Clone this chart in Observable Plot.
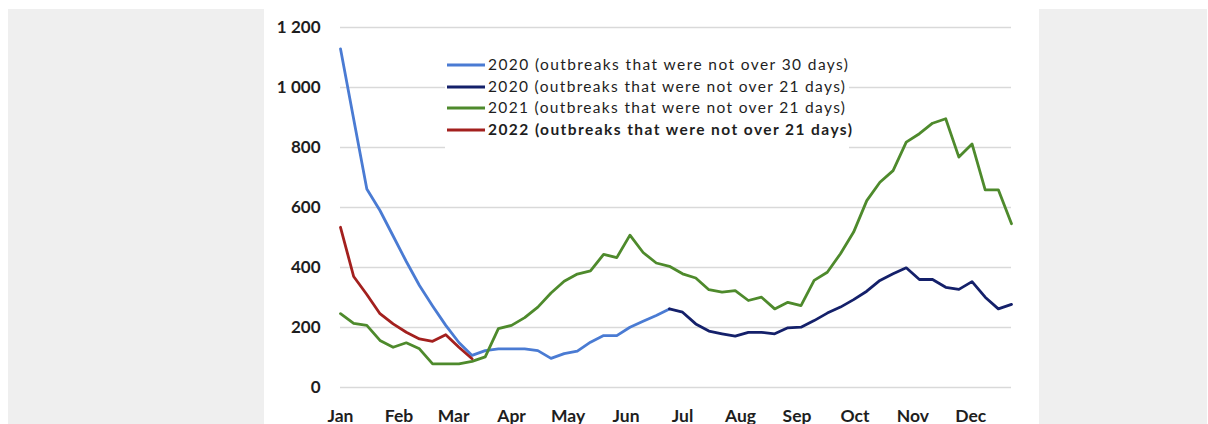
<!DOCTYPE html>
<html>
<head>
<meta charset="utf-8">
<script src="https://cdn.jsdelivr.net/npm/d3@7"></script>
<script src="https://cdn.jsdelivr.net/npm/@observablehq/plot@0.6"></script>
<style>
  html, body { margin: 0; padding: 0; background: #ffffff; }
  body { width: 1208px; height: 424px; position: relative; overflow: hidden; font-family: Lato, "Open Sans", sans-serif; }
  #gray { position: absolute; left: 8px; top: 9px; width: 1199px; height: 415px; background: #efefef; }
  #panel { position: absolute; left: 264px; top: 9px; width: 775px; height: 415px; background: #ffffff; }
  #panel > svg { position: absolute; left: 0; top: 0; }
  #legend { position: absolute; left: 0; top: 0; pointer-events: none; }
</style>
</head>
<body>
<div id="gray"></div>
<div id="panel"></div>
<script>
// ---- data (weekly values) ----
const months = ["Jan", "Feb", "Mar", "Apr", "May", "Jun", "Jul", "Aug", "Sep", "Oct", "Nov", "Dec"];
const monthWeeks = [0, 4.45, 8.6, 13, 17.3, 21.7, 26, 30.4, 34.7, 39.1, 43.5, 47.9];
const yTicks = [0, 200, 400, 600, 800, 1000, 1200];

const seriesNames = [
  "2020 (outbreaks that were not over 30 days)",
  "2020 (outbreaks that were not over 21 days)",
  "2021 (outbreaks that were not over 21 days)",
  "2022 (outbreaks that were not over 21 days)"
];
const seriesColors = ["#4a7bd3", "#14206a", "#4e8a2c", "#a3201e"];
const seriesStartWeek = [0, 25, 0, 0];

const v2020_30 = [1129, 895, 662, 590, 505, 420, 340, 272, 207, 150, 107, 123, 129, 129, 129, 123, 97, 113, 121, 151, 173, 173, 201, 221, 240, 262];
const v2020_21 = [262, 251, 212, 188, 179, 171, 184, 184, 179, 199, 201, 223, 248, 268, 293, 321, 357, 379, 399, 360, 360, 334, 327, 353, 301, 262, 277];
const v2021 = [246, 214, 207, 157, 134, 149, 129, 79, 79, 79, 87, 102, 196, 207, 233, 268, 315, 354, 378, 389, 444, 433, 508, 450, 415, 404, 379, 365, 326, 318, 323, 290, 301, 262, 284, 273, 357, 384, 446, 518, 623, 684, 723, 818, 846, 881, 896, 768, 812, 659, 659, 546];
const v2022 = [534, 370, 310, 246, 212, 184, 162, 154, 176, 134, 96];

const seriesValues = [v2020_30, v2020_21, v2021, v2022];

// ---- table built from the arrays ----
const rows = [];
seriesValues.forEach((vals, s) => {
  vals.forEach((v, i) => rows.push({series: seriesNames[s], week: seriesStartWeek[s] + i, value: v}));
});

const fmt = d => d3.format(",")(d).replace(/,/g, "\u2009\u2009");

const chart = Plot.plot({
  width: 775,
  height: 415,
  marginLeft: 76,
  marginRight: 28,
  marginTop: 18,
  marginBottom: 37,
  style: {fontFamily: "Lato, 'Open Sans', sans-serif", background: "transparent", overflow: "visible"},
  x: {domain: [0, 51]},
  y: {domain: [0, 1200]},
  color: {domain: seriesNames, range: seriesColors},
  marks: [
    Plot.gridY(yTicks, {stroke: "#d9d9d9", strokeOpacity: 1, strokeWidth: 1.6}),
    Plot.axisY(yTicks, {tickSize: 0, tickPadding: 20, tickFormat: fmt, fontSize: 17, fontWeight: "bold", fill: "#1e1e1e", label: null}),
    Plot.axisX(monthWeeks, {tickSize: 0, tickPadding: 22, tickFormat: d => months[monthWeeks.indexOf(d)], fontSize: 17.5, fontWeight: "bold", fill: "#1e1e1e", label: null}),
    Plot.lineY(rows, {x: "week", y: "value", z: "series", stroke: "series", strokeWidth: 2.8, strokeLinejoin: "round", strokeLinecap: "round"})
  ]
});
document.getElementById("panel").appendChild(chart);

// ---- legend inside the plot area, with white box ----
const ns = "http://www.w3.org/2000/svg";
const leg = document.createElementNS(ns, "svg");
leg.setAttribute("id", "legend");
leg.setAttribute("width", 775);
leg.setAttribute("height", 415);
const box = document.createElementNS(ns, "rect");
box.setAttribute("x", 181); box.setAttribute("y", 45);
box.setAttribute("width", 404); box.setAttribute("height", 95);
box.setAttribute("fill", "#ffffff");
leg.appendChild(box);
const rowY = [56, 78, 99, 121];
const textWidths = [360, 357, 357, 364];
seriesNames.forEach((name, i) => {
  const ln = document.createElementNS(ns, "line");
  ln.setAttribute("x1", 183); ln.setAttribute("x2", 221);
  ln.setAttribute("y1", rowY[i]); ln.setAttribute("y2", rowY[i]);
  ln.setAttribute("stroke", seriesColors[i]);
  ln.setAttribute("stroke-width", 3);
  leg.appendChild(ln);
  const t = document.createElementNS(ns, "text");
  t.setAttribute("x", 224); t.setAttribute("y", rowY[i]);
  t.setAttribute("dy", "0.35em");
  t.setAttribute("font-family", "Lato, 'Open Sans', sans-serif");
  t.setAttribute("font-size", 15.5);
  t.setAttribute("fill", "#1e1e1e");
  if (i === 3) t.setAttribute("font-weight", "bold");
  t.setAttribute("textLength", textWidths[i]);
  t.setAttribute("lengthAdjust", "spacing");
  t.textContent = name;
  leg.appendChild(t);
});
document.getElementById("panel").appendChild(leg);
</script>
</body>
</html>
